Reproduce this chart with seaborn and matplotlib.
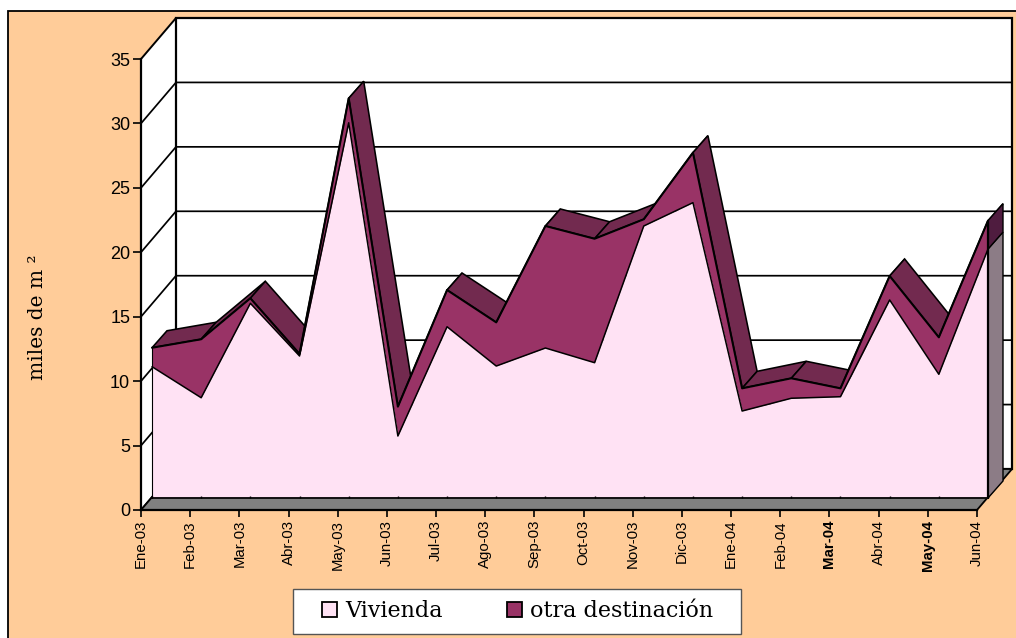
import numpy as np
import pandas as pd
import seaborn as sns
import matplotlib.pyplot as plt
from matplotlib.patches import Patch, Rectangle

# Datos
meses = ['Ene-03', 'Feb-03', 'Mar-03', 'Abr-03', 'May-03', 'Jun-03', 'Jul-03', 'Ago-03', 'Sep-03',
         'Oct-03', 'Nov-03', 'Dic-03', 'Ene-04', 'Feb-04', 'Mar-04', 'Abr-04', 'May-04', 'Jun-04']
vivienda = [10.19, 7.78, 15.11, 11.02, 29.12, 4.81, 13.29, 10.24, 11.64,
            10.50, 21.11, 22.92, 6.75, 7.74, 7.86, 15.37, 9.60, 19.32]
otra_destinacion = [1.47, 4.54, 0.39, 0.16, 1.90, 2.28, 2.85, 3.39, 9.47,
                    9.62, 0.52, 3.88, 1.76, 1.55, 0.65, 1.86, 2.87, 2.20]
ticks_y = [0, 5, 10, 15, 20, 25, 30, 35]

df = pd.DataFrame({'mes': meses, 'vivienda': vivienda, 'otra': otra_destinacion})
df['total'] = df['vivienda'] + df['otra']
df['pos'] = np.arange(len(df))

# Colores
PEACH = '#FFCC99'
PINK = '#FFE2F4'
MAROON = '#993366'
DARK = '#722A4F'
DARKER = '#4F1C3F'
SIDE = '#8C7C86'
FLOOR = '#808080'

sns.set_theme(style='white')
plt.rcParams['font.family'] = ['Liberation Sans', 'DejaVu Sans']

W, H = 1016, 638
fig = plt.figure(figsize=(W / 100, H / 100), dpi=100, facecolor='white')
fig.add_artist(Rectangle((8 / W, -0.05), 1.1, 1.05 - 11 / H, transform=fig.transFigure,
                         fc=PEACH, ec='black', lw=1.3, zorder=-2))
# Caja de la leyenda
fig.add_artist(Rectangle((293 / W, (H - 634) / H), 448 / W, 45 / H, transform=fig.transFigure,
                         fc='white', ec='#555555', lw=1.0, zorder=-1))

ax = fig.add_axes([141 / W, (H - 510) / H, 836 / W, 451 / H])
ax.patch.set_visible(False)

# Desplazamientos de la perspectiva, en unidades de los ejes
px_x = 836 / 17
px_y = 451 / 35
wall_dx, wall_dy = 35 / px_x, 41 / px_y
plane_dx, plane_dy = 11 / px_x, 12 / px_y
depth_dx, depth_dy = 15 / px_x, 17 / px_y
n = len(df) - 1
ymax = ticks_y[-1]

# Paredes y piso
ax.fill([0, wall_dx, wall_dx, 0], [0, wall_dy, ymax + wall_dy, ymax], fc='white', ec='black',
        lw=1.4, clip_on=False, zorder=1)
ax.fill([wall_dx, n + wall_dx, n + wall_dx, wall_dx], [wall_dy, wall_dy, ymax + wall_dy, ymax + wall_dy],
        fc='white', ec='black', lw=1.6, clip_on=False, zorder=1)
ax.fill([0, wall_dx, n + wall_dx, n], [0, wall_dy, wall_dy, 0], fc=FLOOR, ec='black', lw=1.3,
        clip_on=False, zorder=1.2)
for t in ticks_y[1:-1]:
    ax.plot([0, wall_dx, n + wall_dx], [t, t + wall_dy, t + wall_dy], color='black', lw=1.25,
            clip_on=False, zorder=1.1)

x_front = df['pos'] + plane_dx
y_viv = df['vivienda'] + plane_dy
y_tot = df['total'] + plane_dy

# Cara superior de la serie
for i in range(n):
    xs = [x_front[i], x_front[i + 1], x_front[i + 1] + depth_dx, x_front[i] + depth_dx]
    ys = [y_tot[i], y_tot[i + 1], y_tot[i + 1] + depth_dy, y_tot[i] + depth_dy]
    ax.fill(xs, ys, fc=DARK, ec='black', lw=1.15, clip_on=False, zorder=2)

# Cara lateral derecha
xe = x_front[n]
ax.fill([xe, xe + depth_dx, xe + depth_dx, xe],
        [plane_dy, plane_dy + depth_dy, y_viv[n] + depth_dy, y_viv[n]],
        fc=SIDE, ec='black', lw=1.0, clip_on=False, zorder=2.2)
ax.fill([xe, xe + depth_dx, xe + depth_dx, xe],
        [y_viv[n], y_viv[n] + depth_dy, y_tot[n] + depth_dy, y_tot[n]],
        fc=DARKER, ec='black', lw=1.0, clip_on=False, zorder=2.2)

# Caras frontales
ax.fill_between(x_front, y_viv, y_tot, color=MAROON, lw=0, clip_on=False, zorder=3)
ax.fill_between(x_front, plane_dy, y_viv, color=PINK, lw=0, clip_on=False, zorder=3)
sns.lineplot(x=x_front, y=y_viv, color='black', lw=1.1, errorbar=None, ax=ax, clip_on=False, zorder=4)
sns.lineplot(x=x_front, y=y_tot, color='black', lw=1.5, errorbar=None, ax=ax, clip_on=False, zorder=4)
ax.plot([x_front[0], x_front[0]], [plane_dy, y_tot[0]], color='black', lw=0.8, clip_on=False, zorder=4)
ax.plot([xe, xe], [plane_dy, y_tot[n]], color='black', lw=1.6, clip_on=False, zorder=4)
ax.plot([x_front[0], xe], [plane_dy, plane_dy], color='black', lw=1.3, clip_on=False, zorder=4)
ax.vlines(x_front, plane_dy, plane_dy + 0.16, color='black', lw=1.0, clip_on=False, zorder=4)

# Ejes
ax.set_xlim(0, n)
ax.set_ylim(0, ymax)
ax.set_xticks(df['pos'])
ax.set_xticklabels(meses, rotation=90, fontsize=10.8)
ax.set_yticks(ticks_y)
ax.tick_params(axis='y', labelsize=13, labelcolor='black', length=5.8, width=1.2, pad=2, left=True, color='black')
ax.tick_params(axis='x', labelcolor='black', length=5, width=1.2, pad=2.2, bottom=True, color='black')
for i in [14, 16]:
    ax.get_xticklabels()[i].set_fontweight('bold')
for side in ['top', 'right']:
    ax.spines[side].set_visible(False)
for side in ['left', 'bottom']:
    ax.spines[side].set_color('black')
    ax.spines[side].set_linewidth(1.6)
    ax.spines[side].set_zorder(5)
ax.set_xlabel('')
ax.set_ylabel('miles de m ²', family='DejaVu Serif', fontsize=14.5, color='black')
ax.yaxis.set_label_coords((47 - 141) / 836, (510 - 317) / 451)

# Leyenda
handles = [Patch(fc=PINK, ec='black', lw=1.3, label='Vivienda'),
           Patch(fc=MAROON, ec='black', lw=1.3, label='otra destinación')]
leg = fig.legend(handles=handles, ncol=2, loc='center left', bbox_to_anchor=(322 / W, (H - 611) / H),
                 prop={'family': 'DejaVu Serif', 'size': 16}, labelcolor='black', frameon=False,
                 handlelength=0.68, handleheight=0.68, handletextpad=0.36, columnspacing=2.9,
                 borderpad=0, borderaxespad=0)

plt.savefig('out.png', dpi=100)
